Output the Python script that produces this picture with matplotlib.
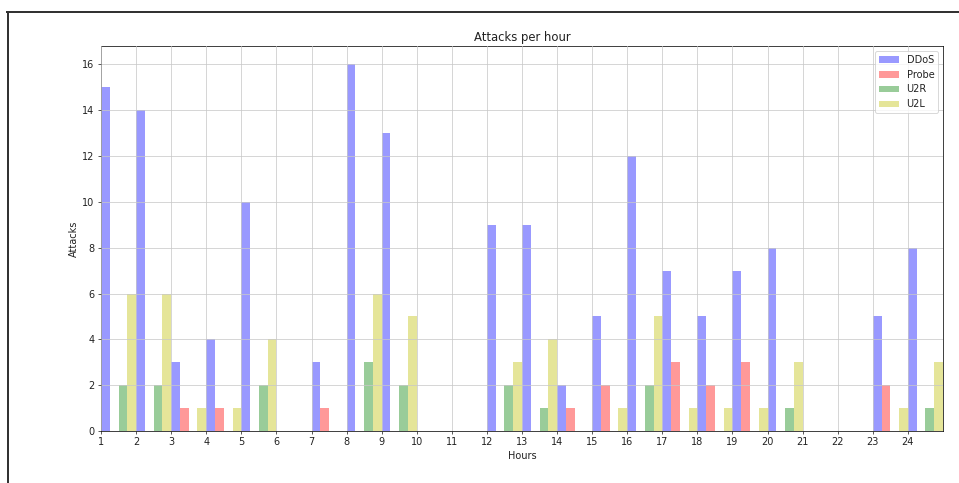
import matplotlib
matplotlib.use("Agg")
import matplotlib.pyplot as plt
import numpy as np
from matplotlib.lines import Line2D

# datos
horas = np.arange(1, 25)
ddos = [15, 14, 3, 4, 10, 0, 3, 16, 13, 0, 0, 9, 9, 2, 5, 12, 7, 5, 7, 8, 0, 0, 5, 8]
probe = [0, 0, 1, 1, 0, 0, 1, 0, 0, 0, 0, 0, 0, 1, 2, 0, 3, 2, 3, 0, 0, 0, 2, 0]
u2r = [2, 2, 0, 0, 2, 0, 0, 3, 2, 0, 0, 2, 1, 0, 0, 2, 0, 0, 0, 1, 0, 0, 0, 1]
u2l = [6, 6, 1, 1, 4, 0, 0, 6, 5, 0, 0, 3, 4, 0, 1, 5, 1, 1, 1, 3, 0, 0, 1, 3]

plt.rcParams.update({
    'font.size': 10.6,
    'text.color': '#222222',
    'axes.labelcolor': '#222222',
    'xtick.color': '#222222',
    'ytick.color': '#222222',
})

dpi = 66
fig = plt.figure(figsize=(959 / dpi, 483 / dpi), dpi=dpi)
ax = fig.add_axes([101 / 959, 1 - 431 / 483, (943 - 101) / 959, (431 - 46) / 483])

ancho = 0.25
series = [(ddos, 'b', 'DDoS'), (probe, 'r', 'Probe'), (u2r, 'g', 'U2R'), (u2l, 'y', 'U2L')]
for k, (vals, col, lab) in enumerate(series):
    ax.bar(horas + k * ancho, vals, ancho, align='edge', color=col, alpha=0.4, label=lab)

ax.set_xlim(1, 25)
ax.set_xticks(horas)
ax.set_yticks(range(0, 17, 2))
ax.set_xlabel("Hours")
ax.set_ylabel("Attacks")
ax.set_title("Attacks per hour")
ax.grid(True, color='#c8c8c8')
ax.set_axisbelow(False)
ax.legend(loc='upper right')

# borde de la captura
lw = 2 * 72 / dpi
fig.add_artist(Line2D([8 / 959, 8 / 959], [0, 1 - 12 / 483], transform=fig.transFigure,
                      color='#333333', lw=lw))
fig.add_artist(Line2D([7 / 959, 1], [1 - 12 / 483, 1 - 12 / 483], transform=fig.transFigure,
                      color='#333333', lw=lw))

fig.savefig("out.png", dpi=dpi)
